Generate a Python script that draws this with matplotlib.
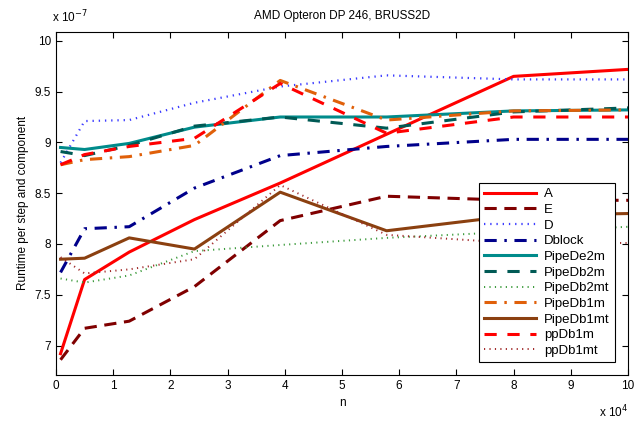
import numpy as np
import matplotlib
matplotlib.use("Agg")
import matplotlib.pyplot as plt

plt.rcParams['font.family'] = ['Liberation Sans', 'DejaVu Sans']

# problem sizes n (2*N^2 for BRUSS2D), shown in units of 1e4
n = np.array([800, 5000, 12800, 24200, 39200, 57800, 80000, 100352]) / 1e4

# runtime per step and component, in units of 1e-7
A = [6.92, 7.65, 7.92, 8.24, 8.60, 9.08, 9.65, 9.72]
E = [6.86, 7.17, 7.24, 7.58, 8.23, 8.47, 8.43, 8.43]
D = [8.80, 9.21, 9.22, 9.39, 9.55, 9.66, 9.62, 9.62]
Dblock = [7.72, 8.15, 8.17, 8.55, 8.87, 8.96, 9.03, 9.03]
PipeDe2m = [8.95, 8.93, 8.99, 9.15, 9.25, 9.25, 9.31, 9.32]
PipeDb2m = [8.91, 8.87, 8.97, 9.16, 9.25, 9.14, 9.30, 9.34]
PipeDb2mt = [7.66, 7.62, 7.69, 7.93, 7.99, 8.06, 8.12, 8.17]
PipeDb1m = [8.78, 8.83, 8.86, 8.97, 9.61, 9.22, 9.31, 9.32]
PipeDb1mt = [7.85, 7.86, 8.06, 7.95, 8.51, 8.13, 8.28, 8.30]
ppDb1m = [8.78, 8.88, 8.96, 9.04, 9.58, 9.09, 9.25, 9.25]
ppDb1mt = [7.87, 7.71, 7.75, 7.85, 8.58, 8.09, 8.01, 8.01]

series = [
    ("A", A, "#ff0000", "-", 2.2),
    ("E", E, "#800000", (0, (4, 2.5)), 2.2),
    ("D", D, "#3c3cff", (0, (0.6, 2.2)), 1.6),
    ("Dblock", Dblock, "#00008b", (0, (4, 2.5, 0.8, 2.5)), 2.2),
    ("PipeDe2m", PipeDe2m, "#008b8b", "-", 2.2),
    ("PipeDb2m", PipeDb2m, "#005a55", (0, (4, 3.5)), 2.2),
    ("PipeDb2mt", PipeDb2mt, "#3a9a3a", (0, (0.6, 2.2)), 1.4),
    ("PipeDb1m", PipeDb1m, "#e0600a", (0, (4, 2.5, 0.8, 2.5)), 2.2),
    ("PipeDb1mt", PipeDb1mt, "#8b4010", "-", 2.2),
    ("ppDb1m", ppDb1m, "#ff0000", (0, (4, 3.5)), 2.2),
    ("ppDb1mt", ppDb1mt, "#a02828", (0, (0.6, 2.2)), 1.4),
]

fig = plt.figure(figsize=(6.34, 4.28), dpi=100)
ax = fig.add_axes([0.0883, 0.1238, 0.9022, 0.8022])

for name, vals, col, ls, lw in series:
    ax.plot(n, vals, color=col, linestyle=ls, linewidth=lw, label=name)

ax.set_xlim(0, 10)
ax.set_ylim(6.71, 10.09)
ax.set_xticks(range(0, 11))
ax.set_yticks([7, 7.5, 8, 8.5, 9, 9.5, 10])
ax.set_yticklabels(["7", "7.5", "8", "8.5", "9", "9.5", "10"])
ax.tick_params(direction="in", top=True, right=True, labelsize=8.5, length=4)

ax.set_xlabel("n", fontsize=8.5)
ax.set_ylabel("Runtime per step and component", fontsize=8.5)
ax.set_title("AMD Opteron DP 246, BRUSS2D", fontsize=8.5, pad=9)

fig.text(0.082, 0.948, r"x 10$^{-7}$", fontsize=8.5, ha="left")
fig.text(0.945, 0.025, r"x 10$^{4}$", fontsize=8.5, ha="left")

leg = ax.legend(loc="lower right", fontsize=9.5, handlelength=4.0,
                labelspacing=0.26, borderpad=0.35, handletextpad=0.6,
                fancybox=False, framealpha=1, edgecolor="black",
                bbox_to_anchor=(0.988, 0.02))
leg.get_frame().set_linewidth(0.8)

fig.savefig("out.png", dpi=100)
